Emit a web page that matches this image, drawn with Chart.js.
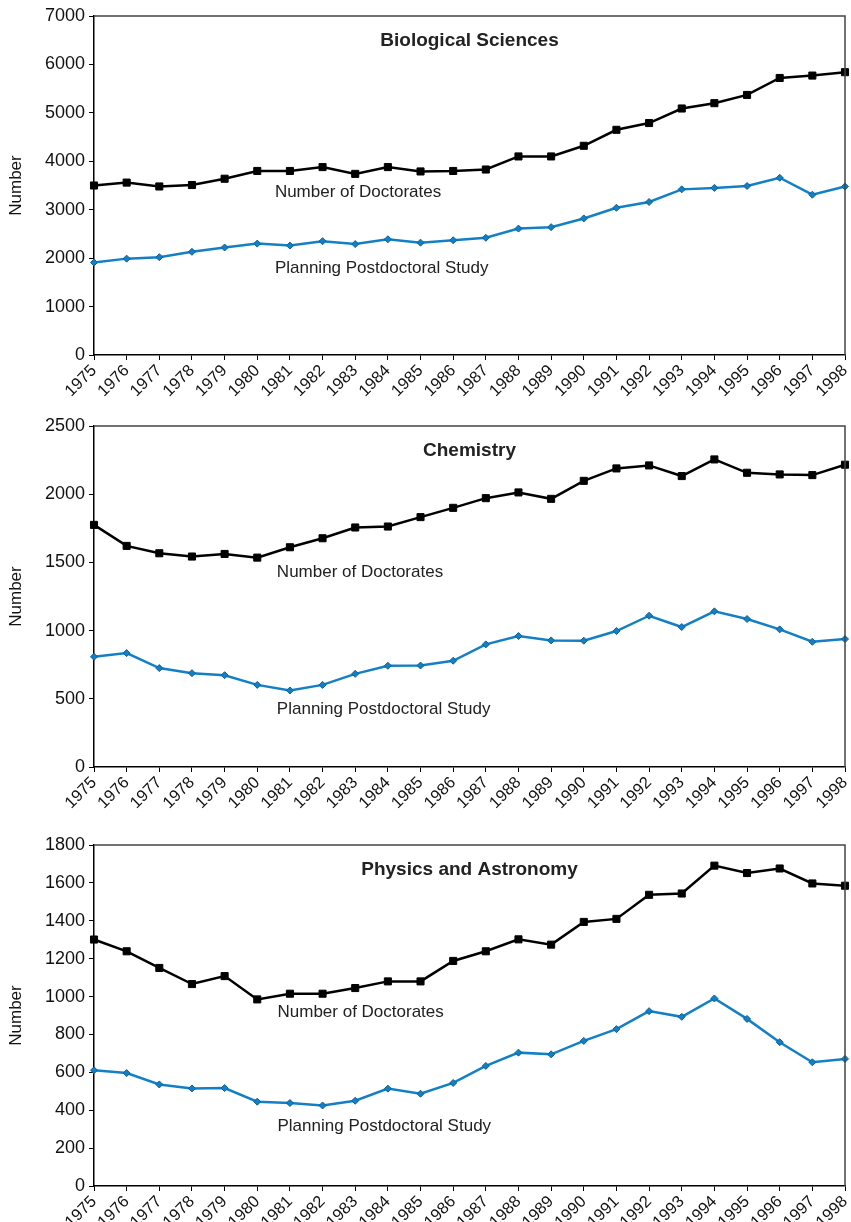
<!DOCTYPE html>
<html>
<head>
<meta charset="utf-8">
<script src="https://cdn.jsdelivr.net/npm/chart.js@4"></script>
<style>
  body { margin: 0; background: #fff; }
  .panel { position: absolute; left: 0; }
</style>
</head>
<body>
<div class="panel" style="top:0px"><canvas id="bio" width="851" height="408"></canvas></div>
<div class="panel" style="top:410px"><canvas id="chem" width="851" height="410"></canvas></div>
<div class="panel" style="top:829px"><canvas id="phys" width="851" height="393"></canvas></div>
<script>
const years = ['1975','1976','1977','1978','1979','1980','1981','1982','1983','1984','1985','1986',
               '1987','1988','1989','1990','1991','1992','1993','1994','1995','1996','1997','1998'];

// Biological Sciences
const bioDoctorates = [3500, 3560, 3480, 3510, 3640, 3800, 3800, 3880, 3740, 3880, 3790, 3800,
                       3830, 4100, 4100, 4320, 4650, 4790, 5090, 5200, 5370, 5720, 5770, 5840];
const bioPlanning   = [1910, 1990, 2020, 2130, 2220, 2300, 2260, 2350, 2290, 2390, 2320, 2370,
                       2420, 2610, 2640, 2820, 3040, 3160, 3420, 3450, 3490, 3660, 3310, 3480];

// Chemistry
const chemDoctorates = [1775, 1621, 1567, 1543, 1562, 1535, 1611, 1677, 1756, 1763, 1832, 1900,
                        1971, 2013, 1966, 2098, 2189, 2211, 2133, 2255, 2157, 2145, 2140, 2216];
const chemPlanning   = [808, 835, 725, 688, 673, 602, 561, 602, 683, 742, 744, 779,
                        899, 960, 928, 926, 997, 1109, 1026, 1141, 1085, 1009, 918, 938];

// Physics and Astronomy
const physDoctorates = [1301, 1239, 1151, 1066, 1108, 985, 1015, 1015, 1045, 1080, 1080, 1188,
                        1239, 1302, 1274, 1394, 1410, 1537, 1544, 1691, 1652, 1676, 1597, 1585];
const physPlanning   = [611, 596, 536, 515, 517, 445, 438, 425, 450, 514, 487, 544,
                        634, 704, 695, 766, 828, 923, 893, 990, 882, 759, 653, 671];

const BLUE = '#1380c6';
const FONT = 'Liberation Sans, Arial, Helvetica, sans-serif';

// draws the box border, the panel title and the series captions inside the plot
const panelText = {
    id: 'panelText',
    afterDraw(chart, args, opts) {
        const ctx = chart.ctx;
        const a = chart.chartArea;
        const xs = chart.scales.x, ys = chart.scales.y;
        ctx.save();
        ctx.strokeStyle = '#444';
        ctx.lineWidth = 1.5;
        ctx.beginPath();
        ctx.moveTo(a.left, a.top);
        ctx.lineTo(a.right, a.top);
        ctx.lineTo(a.right, a.bottom);
        ctx.stroke();

        ctx.fillStyle = '#222';
        ctx.textAlign = 'center';
        ctx.textBaseline = 'middle';
        ctx.font = 'bold 19px ' + FONT;
        ctx.fillText(opts.title, (a.left + a.right) / 2, a.top + 25);

        ctx.font = '17px ' + FONT;
        ctx.textAlign = 'left';
        opts.notes.forEach(n => {
            ctx.fillText(n.text, xs.getPixelForValue(n.at), ys.getPixelForValue(n.value));
        });
        ctx.restore();
    }
};

function makeChart(id, title, doctorates, planning, yMax, yStep, notes, plotBottom) {
    const canvas = document.getElementById(id);
    const h = canvas.height;
    return new Chart(canvas.getContext('2d'), {
        type: 'line',
        data: {
            labels: years,
            datasets: [
                {
                    label: 'Number of Doctorates',
                    data: doctorates,
                    borderColor: '#000',
                    backgroundColor: '#000',
                    borderWidth: 2.5,
                    pointStyle: 'rect',
                    pointRadius: 5,
                    pointBorderWidth: 1,
                    tension: 0,
                    clip: false
                },
                {
                    label: 'Planning Postdoctoral Study',
                    data: planning,
                    borderColor: BLUE,
                    backgroundColor: BLUE,
                    borderWidth: 2.5,
                    pointStyle: 'rectRot',
                    pointRadius: 3.5,
                    pointBorderWidth: 1,
                    pointBorderColor: '#0c5f96',
                    tension: 0,
                    clip: false
                }
            ]
        },
        options: {
            responsive: false,
            animation: false,
            layout: { autoPadding: false, padding: { top: 16, right: 6, left: 0, bottom: 0 } },
            scales: {
                x: {
                    grid: { display: true, drawOnChartArea: false, drawTicks: true, tickLength: 5, color: '#000' },
                    border: { color: '#000', width: 1.5 },
                    ticks: { color: '#111', font: { family: FONT, size: 16.5 }, minRotation: 45, maxRotation: 45, autoSkip: false, padding: 1 },
                    afterFit(scale) {
                        scale.height = h - plotBottom;
                        scale.paddingLeft = 0;
                        scale.paddingRight = 0;
                    }
                },
                y: {
                    min: 0, max: yMax,
                    grid: { display: true, drawOnChartArea: false, drawTicks: true, tickLength: 5, color: '#000' },
                    border: { color: '#000', width: 1.5 },
                    ticks: { stepSize: yStep, color: '#111', font: { family: FONT, size: 18 }, padding: 4,
                             callback: v => String(v) },
                    title: { display: true, text: 'Number', color: '#111', font: { family: FONT, size: 17 }, padding: { top: 6, bottom: 0 } },
                    afterFit(scale) {
                        scale.width = 94;
                        scale.paddingTop = 0;
                        scale.paddingBottom = 0;
                    }
                }
            },
            plugins: {
                legend: { display: false },
                tooltip: { enabled: false },
                panelText: { title: title, notes: notes }
            }
        },
        plugins: [panelText]
    });
}

makeChart('bio', 'Biological Sciences', bioDoctorates, bioPlanning, 7000, 1000,
    [{ text: 'Number of Doctorates', at: 5.54, value: 3350 },
     { text: 'Planning Postdoctoral Study', at: 5.54, value: 1790 }], 355);

makeChart('chem', 'Chemistry', chemDoctorates, chemPlanning, 2500, 500,
    [{ text: 'Number of Doctorates', at: 5.6, value: 1430 },
     { text: 'Planning Postdoctoral Study', at: 5.6, value: 425 }], 357);

makeChart('phys', 'Physics and Astronomy', physDoctorates, physPlanning, 1800, 200,
    [{ text: 'Number of Doctorates', at: 5.62, value: 918 },
     { text: 'Planning Postdoctoral Study', at: 5.62, value: 317 }], 357);
</script>
</body>
</html>
